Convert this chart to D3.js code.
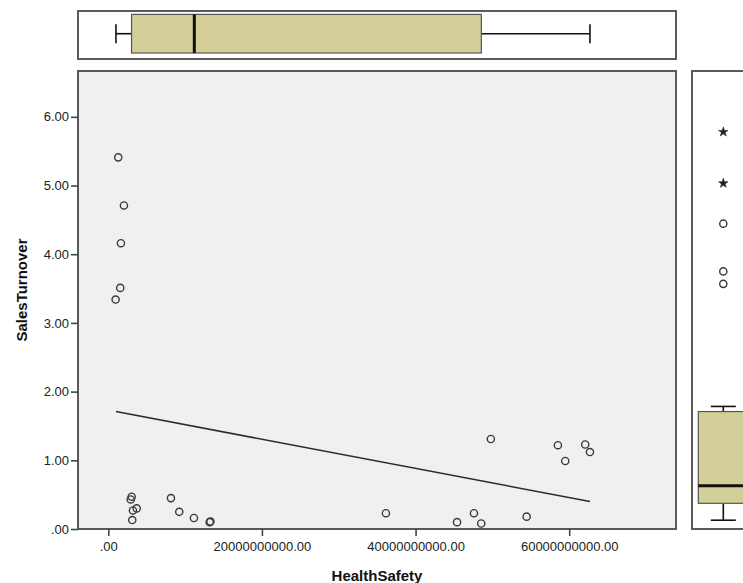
<!DOCTYPE html>
<html>
<head>
<meta charset="utf-8">
<script src="https://cdn.jsdelivr.net/npm/d3@7/dist/d3.min.js"></script>
<style>
  html, body { margin: 0; padding: 0; background: #ffffff; overflow: hidden; }
  svg { display: block; font-family: Arial, "Liberation Sans", sans-serif; }
</style>
</head>
<body>
<svg id="chart" width="743" height="583"></svg>
<script>
// ---- data ----
const healthSafety = [1.30e9, 2.04e9, 1.65e9, 1.56e9, 0.96e9,
  3.05e9, 2.92e9, 3.70e9, 3.21e9, 3.12e9, 8.16e9, 9.24e9, 1.115e10, 1.32e10, 1.33e10,
  3.614e10, 4.54e10, 4.76e10, 4.855e10, 5.446e10,
  4.98e10, 5.853e10, 5.948e10, 6.208e10, 6.27e10];
const salesTurnover = [5.41, 4.71, 4.16, 3.51, 3.34,
  0.47, 0.43, 0.30, 0.27, 0.13, 0.45, 0.25, 0.16, 0.10, 0.11,
  0.23, 0.10, 0.23, 0.08, 0.18,
  1.31, 1.22, 0.99, 1.23, 1.12];
// fit line end points
const fitX = [1.0e9, 6.27e10];
const fitY = [1.71, 0.40];
// marginal boxplot of HealthSafety: [lowWhisker, q1, median, q3, highWhisker]
const boxX = [1.0e9, 3.03e9, 1.12e10, 4.856e10, 6.27e10];
// marginal boxplot of SalesTurnover
const boxY = [0.12, 0.35, 0.59, 1.60, 1.67];
const extremesY = [5.41, 4.71];
const outliersY = [4.16, 3.51, 3.34];
// ticks
const xTicks = [0, 2e10, 4e10, 6e10];
const yTicks = [0, 1, 2, 3, 4, 5, 6];
const xTitle = "HealthSafety";
const yTitle = "SalesTurnover";

// ---- layout ----
const P = { left: 78, right: 676, top: 71, bottom: 529 };
const svg = d3.select("#chart");
const fmt = v => v === 0 ? ".00" : v.toFixed(2);

const x = d3.scaleLinear().domain([-3.94e9, 7.39e10]).range([P.left, P.right]);
const y = d3.scaleLinear().domain([0, 6.667]).range([P.bottom, P.top]);
const yB = d3.scaleLinear().domain([0, 6.24]).range([P.bottom, P.top]);

const boxFill = "#d4cf98";
const frameStroke = "#5a5a5a";
const ink = "#2b2b2b";

// main panel
svg.append("rect").attr("x", P.left).attr("y", P.top)
  .attr("width", P.right - P.left).attr("height", P.bottom - P.top)
  .attr("fill", "#f0f0f0").attr("stroke", frameStroke).attr("stroke-width", 2);

// axes
const yAxis = svg.append("g").attr("transform", `translate(${P.left},0)`)
  .call(d3.axisLeft(y).tickValues(yTicks).tickFormat(fmt).tickSize(7).tickPadding(2));
const xAxis = svg.append("g").attr("transform", `translate(0,${P.bottom})`)
  .call(d3.axisBottom(x).tickValues(xTicks).tickFormat(fmt).tickSize(7).tickPadding(6));
[yAxis, xAxis].forEach(g => {
  g.select(".domain").remove();
  g.selectAll(".tick line").attr("stroke", "#444").attr("stroke-width", 1.6);
  g.selectAll(".tick text").attr("fill", "#222").style("font-size", "13px")
    .style("font-family", "Arial, 'Liberation Sans', sans-serif");
});

// titles
svg.append("text").attr("x", (P.left + P.right) / 2).attr("y", 581)
  .attr("text-anchor", "middle").attr("font-weight", "bold").attr("font-size", 15)
  .attr("fill", "#111").text(xTitle);
svg.append("text").attr("transform", `translate(27,${290}) rotate(-90)`)
  .attr("text-anchor", "middle").attr("font-weight", "bold").attr("font-size", 15)
  .attr("fill", "#111").text(yTitle);

// fit line
svg.append("line")
  .attr("x1", x(fitX[0])).attr("y1", y(fitY[0]))
  .attr("x2", x(fitX[1])).attr("y2", y(fitY[1]))
  .attr("stroke", ink).attr("stroke-width", 1.5);

// points
svg.append("g").selectAll("circle").data(healthSafety.map((v, i) => [v, salesTurnover[i]]))
  .join("circle")
  .attr("cx", d => x(d[0])).attr("cy", d => y(d[1])).attr("r", 3.6)
  .attr("fill", "none").attr("stroke", "#3a3a3a").attr("stroke-width", 1.4);

// top marginal boxplot
const T = { top: 11, bottom: 59 };
svg.append("rect").attr("x", P.left).attr("y", T.top)
  .attr("width", P.right - P.left).attr("height", T.bottom - T.top)
  .attr("fill", "#ffffff").attr("stroke", frameStroke).attr("stroke-width", 2);
const tc = 33.7, th = 19.3, cap = 9.5;
const tg = svg.append("g");
tg.append("line").attr("x1", x(boxX[0])).attr("x2", x(boxX[1])).attr("y1", tc).attr("y2", tc)
  .attr("stroke", "#111").attr("stroke-width", 1.6);
tg.append("line").attr("x1", x(boxX[3])).attr("x2", x(boxX[4])).attr("y1", tc).attr("y2", tc)
  .attr("stroke", "#111").attr("stroke-width", 1.6);
[boxX[0], boxX[4]].forEach(v => tg.append("line").attr("x1", x(v)).attr("x2", x(v))
  .attr("y1", tc - cap).attr("y2", tc + cap).attr("stroke", "#111").attr("stroke-width", 1.6));
tg.append("rect").attr("x", x(boxX[1])).attr("y", tc - th)
  .attr("width", x(boxX[3]) - x(boxX[1])).attr("height", 2 * th)
  .attr("fill", boxFill).attr("stroke", "#555").attr("stroke-width", 1.2);
tg.append("line").attr("x1", x(boxX[2])).attr("x2", x(boxX[2]))
  .attr("y1", tc - th).attr("y2", tc + th).attr("stroke", "#111").attr("stroke-width", 3);

// right marginal boxplot
const R = { left: 692 };
svg.append("rect").attr("x", R.left).attr("y", P.top)
  .attr("width", 120).attr("height", P.bottom - P.top)
  .attr("fill", "#ffffff").attr("stroke", frameStroke).attr("stroke-width", 2);
const rc = 723.3, rw = 25, rcap = 12.5;
const rg = svg.append("g");
rg.append("line").attr("x1", rc).attr("x2", rc).attr("y1", yB(boxY[0])).attr("y2", yB(boxY[1]))
  .attr("stroke", "#111").attr("stroke-width", 1.6);
rg.append("line").attr("x1", rc).attr("x2", rc).attr("y1", yB(boxY[3])).attr("y2", yB(boxY[4]))
  .attr("stroke", "#111").attr("stroke-width", 1.6);
[boxY[0], boxY[4]].forEach(v => rg.append("line").attr("x1", rc - rcap).attr("x2", rc + rcap)
  .attr("y1", yB(v)).attr("y2", yB(v)).attr("stroke", "#111").attr("stroke-width", 1.6));
rg.append("rect").attr("x", rc - rw).attr("y", yB(boxY[3]))
  .attr("width", 2 * rw).attr("height", yB(boxY[1]) - yB(boxY[3]))
  .attr("fill", boxFill).attr("stroke", "#555").attr("stroke-width", 1.2);
rg.append("line").attr("x1", rc - rw).attr("x2", rc + rw)
  .attr("y1", yB(boxY[2])).attr("y2", yB(boxY[2])).attr("stroke", "#111").attr("stroke-width", 3);
rg.selectAll("circle.o").data(outliersY).join("circle").attr("class", "o")
  .attr("cx", rc).attr("cy", d => yB(d)).attr("r", 3.6)
  .attr("fill", "none").attr("stroke", "#3a3a3a").attr("stroke-width", 1.4);
rg.selectAll("path.e").data(extremesY).join("path").attr("class", "e")
  .attr("transform", d => `translate(${rc},${yB(d)})`)
  .attr("d", d3.symbol(d3.symbolStar, 28))
  .attr("fill", "#222").attr("stroke", "#222").attr("stroke-width", 0.6);
</script>
</body>
</html>
